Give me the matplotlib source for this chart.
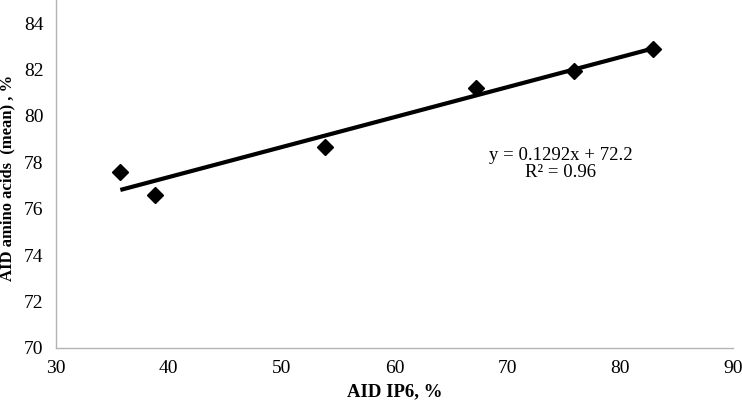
import matplotlib.pyplot as plt
import numpy as np

plt.rcParams['font.family'] = ['Liberation Serif', 'DejaVu Serif']

# AID IP6 (%) vs AID amino acids mean (%)
aid_ip6 = [35.7, 38.8, 53.8, 67.2, 75.9, 82.9]
aid_amino = [77.6, 76.6, 78.65, 81.2, 81.95, 82.9]

# linear trendline as printed on the chart
slope = 0.1292
intercept = 72.2
r_squared = 0.96

x_ticks = [30, 40, 50, 60, 70, 80, 90]
y_ticks = [70, 72, 74, 76, 78, 80, 82, 84]

fig = plt.figure(figsize=(7.42, 4.03), dpi=100)
ax = fig.add_axes([0.0755, 0.1365, 0.9125, 0.8635])

ax.plot(aid_ip6, aid_amino, linestyle='none', marker='D', markersize=8.5,
        color='black', zorder=3)

trend_x = np.array([min(aid_ip6), max(aid_ip6)])
ax.plot(trend_x, slope * trend_x + intercept, color='black', linewidth=3,
        solid_capstyle='butt', zorder=2)

ax.text(74.7, 77.93, f'y = {slope}x + {intercept}\nR\u00b2 = {r_squared}',
        ha='center', va='center', fontsize=13.5, linespacing=1.05)

ax.set_xlim(30, 90)
ax.set_ylim(70, 85)
ax.set_xticks(x_ticks)
ax.set_yticks(y_ticks)
ax.tick_params(length=0, labelsize=14, pad=9)

for side in ['top', 'right']:
    ax.spines[side].set_visible(False)
for side in ['left', 'bottom']:
    ax.spines[side].set_color('#b3b3b3')
    ax.spines[side].set_linewidth(1)

ax.set_xlabel('AID IP6, %', fontsize=13.5, fontweight='bold')
ax.set_ylabel('AID amino acids  (mean) , %', fontsize=12, fontweight='bold')
ax.xaxis.set_label_coords(0.5, -0.1)
ax.yaxis.set_label_coords(-0.06, 0.49)

fig.savefig('out.png', dpi=100)
